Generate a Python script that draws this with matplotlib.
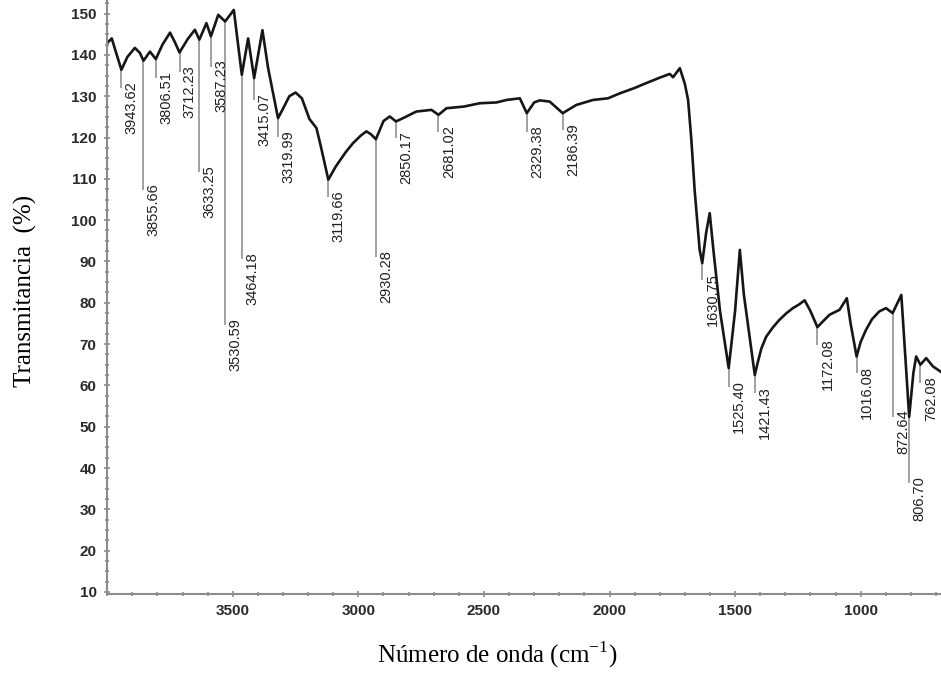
import numpy as np
import matplotlib
matplotlib.use("Agg")
from matplotlib import pyplot as plt
from matplotlib.ticker import MultipleLocator

# FTIR spectrum (wavenumber in cm-1, transmittance in %)
wavenumber = [4000, 3982, 3962, 3943.62, 3920, 3890, 3870, 3855.66, 3830, 3806.51,
              3780, 3750, 3730, 3712.23, 3680, 3651, 3633.25, 3605, 3587.23, 3558,
              3530.59, 3496, 3480, 3464.18, 3439, 3415.07, 3382, 3360, 3319.99, 3300,
              3275, 3250, 3225, 3195, 3167, 3150, 3119.66, 3090, 3050, 3022,
              2990, 2968, 2950, 2930.28, 2900, 2875, 2850.17, 2822, 2769, 2709,
              2681.02, 2649, 2580, 2517, 2450, 2410, 2357, 2329.38, 2300, 2278,
              2238, 2186.39, 2132, 2066, 2006, 1959, 1900, 1853, 1800, 1760,
              1747, 1720, 1700, 1687, 1674, 1661, 1641, 1630.75, 1615, 1601,
              1585, 1560, 1525.40, 1500, 1481, 1465, 1421.43, 1410, 1395, 1376,
              1350, 1323, 1295, 1270, 1245, 1223, 1200, 1172.08, 1150, 1124,
              1084, 1055, 1040, 1016.08, 1000, 979, 955, 926, 899, 872.64,
              838, 820, 806.70, 790, 779, 762.08, 739, 712, 681]
transmittance = [142.9, 144.0, 140.0, 136.4, 139.5, 141.7, 140.5, 138.6, 140.8, 139.0,
                 142.5, 145.4, 143.0, 140.6, 143.8, 146.1, 143.7, 147.7, 144.5, 149.7,
                 148.1, 150.9, 143.0, 135.2, 144.0, 134.4, 146.0, 137.0, 124.7, 127.0,
                 130.0, 130.9, 129.5, 124.5, 122.3, 118.0, 109.8, 113.0, 116.5, 118.6,
                 120.5, 121.5, 120.8, 119.6, 124.0, 125.1, 123.9, 124.7, 126.3, 126.7,
                 125.5, 127.1, 127.5, 128.3, 128.5, 129.1, 129.5, 125.9, 128.5, 129.0,
                 128.7, 125.9, 127.9, 129.1, 129.5, 130.7, 132.0, 133.2, 134.5, 135.4,
                 134.6, 136.8, 133.0, 129.1, 119.4, 107.3, 92.8, 89.6, 97.0, 101.7,
                 92.0, 78.0, 64.2, 78.0, 92.8, 82.0, 62.5, 65.5, 69.0, 71.8,
                 74.0, 75.9, 77.5, 78.7, 79.6, 80.6, 78.0, 74.1, 75.5, 77.1,
                 78.3, 81.1, 75.0, 67.0, 70.5, 73.4, 76.0, 77.9, 78.7, 77.5,
                 81.9, 65.0, 52.4, 63.0, 67.0, 65.0, 66.6, 64.6, 63.3]

# labelled bands and where each marker line stops
band_wn = [3943.62, 3855.66, 3806.51, 3712.23, 3633.25, 3587.23, 3530.59, 3464.18,
           3415.07, 3319.99, 3119.66, 2930.28, 2850.17, 2681.02, 2329.38, 2186.39,
           1630.75, 1525.40, 1421.43, 1172.08, 1016.08, 872.64, 806.70, 762.08]
band_line_end = [132.0, 107.3, 134.5, 135.9, 111.7, 137.2, 74.6, 90.6,
                 129.1, 120.2, 105.6, 91.1, 119.9, 121.4, 121.4, 121.9,
                 85.5, 59.6, 58.2, 69.8, 63.0, 52.4, 36.4, 60.6]

x_ticks = [3500, 3000, 2500, 2000, 1500, 1000]
y_ticks = list(range(10, 151, 10))

plt.rcParams['font.family'] = 'Liberation Sans'
plt.rcParams['mathtext.fontset'] = 'custom'
plt.rcParams['mathtext.rm'] = 'Liberation Serif'

fig = plt.figure(figsize=(9.41, 6.73), dpi=100)
ax = fig.add_axes([0.1137, 0.1174, 0.8863, 0.8826])

wn = np.array(wavenumber)
tr = np.array(transmittance)
ax.plot(wn, tr, color='#161616', lw=1.9, solid_joinstyle='round')

# marker lines and rotated band labels
band_top = np.interp(band_wn, wn[::-1], tr[::-1])
ax.vlines(band_wn, band_line_end, band_top, color='#9a9a9a', lw=1.3, zorder=1)
for b, y0 in zip(band_wn, band_line_end):
    ax.annotate(f"{b:.2f}", (b, y0), xytext=(7.5, 5), textcoords='offset points',
                rotation=90, ha='center', va='top', fontsize=10.5, color='#202020')

ax.set_xlim(4001, 680)
ax.set_ylim(9.5, 153.3)
ax.set_xticks(x_ticks)
ax.set_yticks(y_ticks)
ax.xaxis.set_minor_locator(MultipleLocator(100))
ax.yaxis.set_minor_locator(MultipleLocator(2.5))

for s in ['top', 'right']:
    ax.spines[s].set_visible(False)
for s in ['left', 'bottom']:
    ax.spines[s].set_color('#8c8c8c')
    ax.spines[s].set_linewidth(1.5)

ax.tick_params(which='major', direction='inout', length=5, width=1.2, color='#8c8c8c',
               labelsize=11, labelcolor='#2a2a2a', pad=5)
ax.tick_params(which='minor', direction='inout', length=2.5, width=1.2, color='#8c8c8c')
for lab in ax.get_xticklabels() + ax.get_yticklabels():
    lab.set_fontweight('bold')

fig.text(0.528, 0.027, "Número de onda (cm$^{\\mathregular{-1}}$)", family='Liberation Serif',
         fontsize=18, ha='center', va='center')
fig.text(0.027, 0.568, "Transmitancia  (%)", family='Liberation Serif',
         fontsize=18, rotation=90, ha='center', va='center')

fig.savefig('out.png', dpi=100)
